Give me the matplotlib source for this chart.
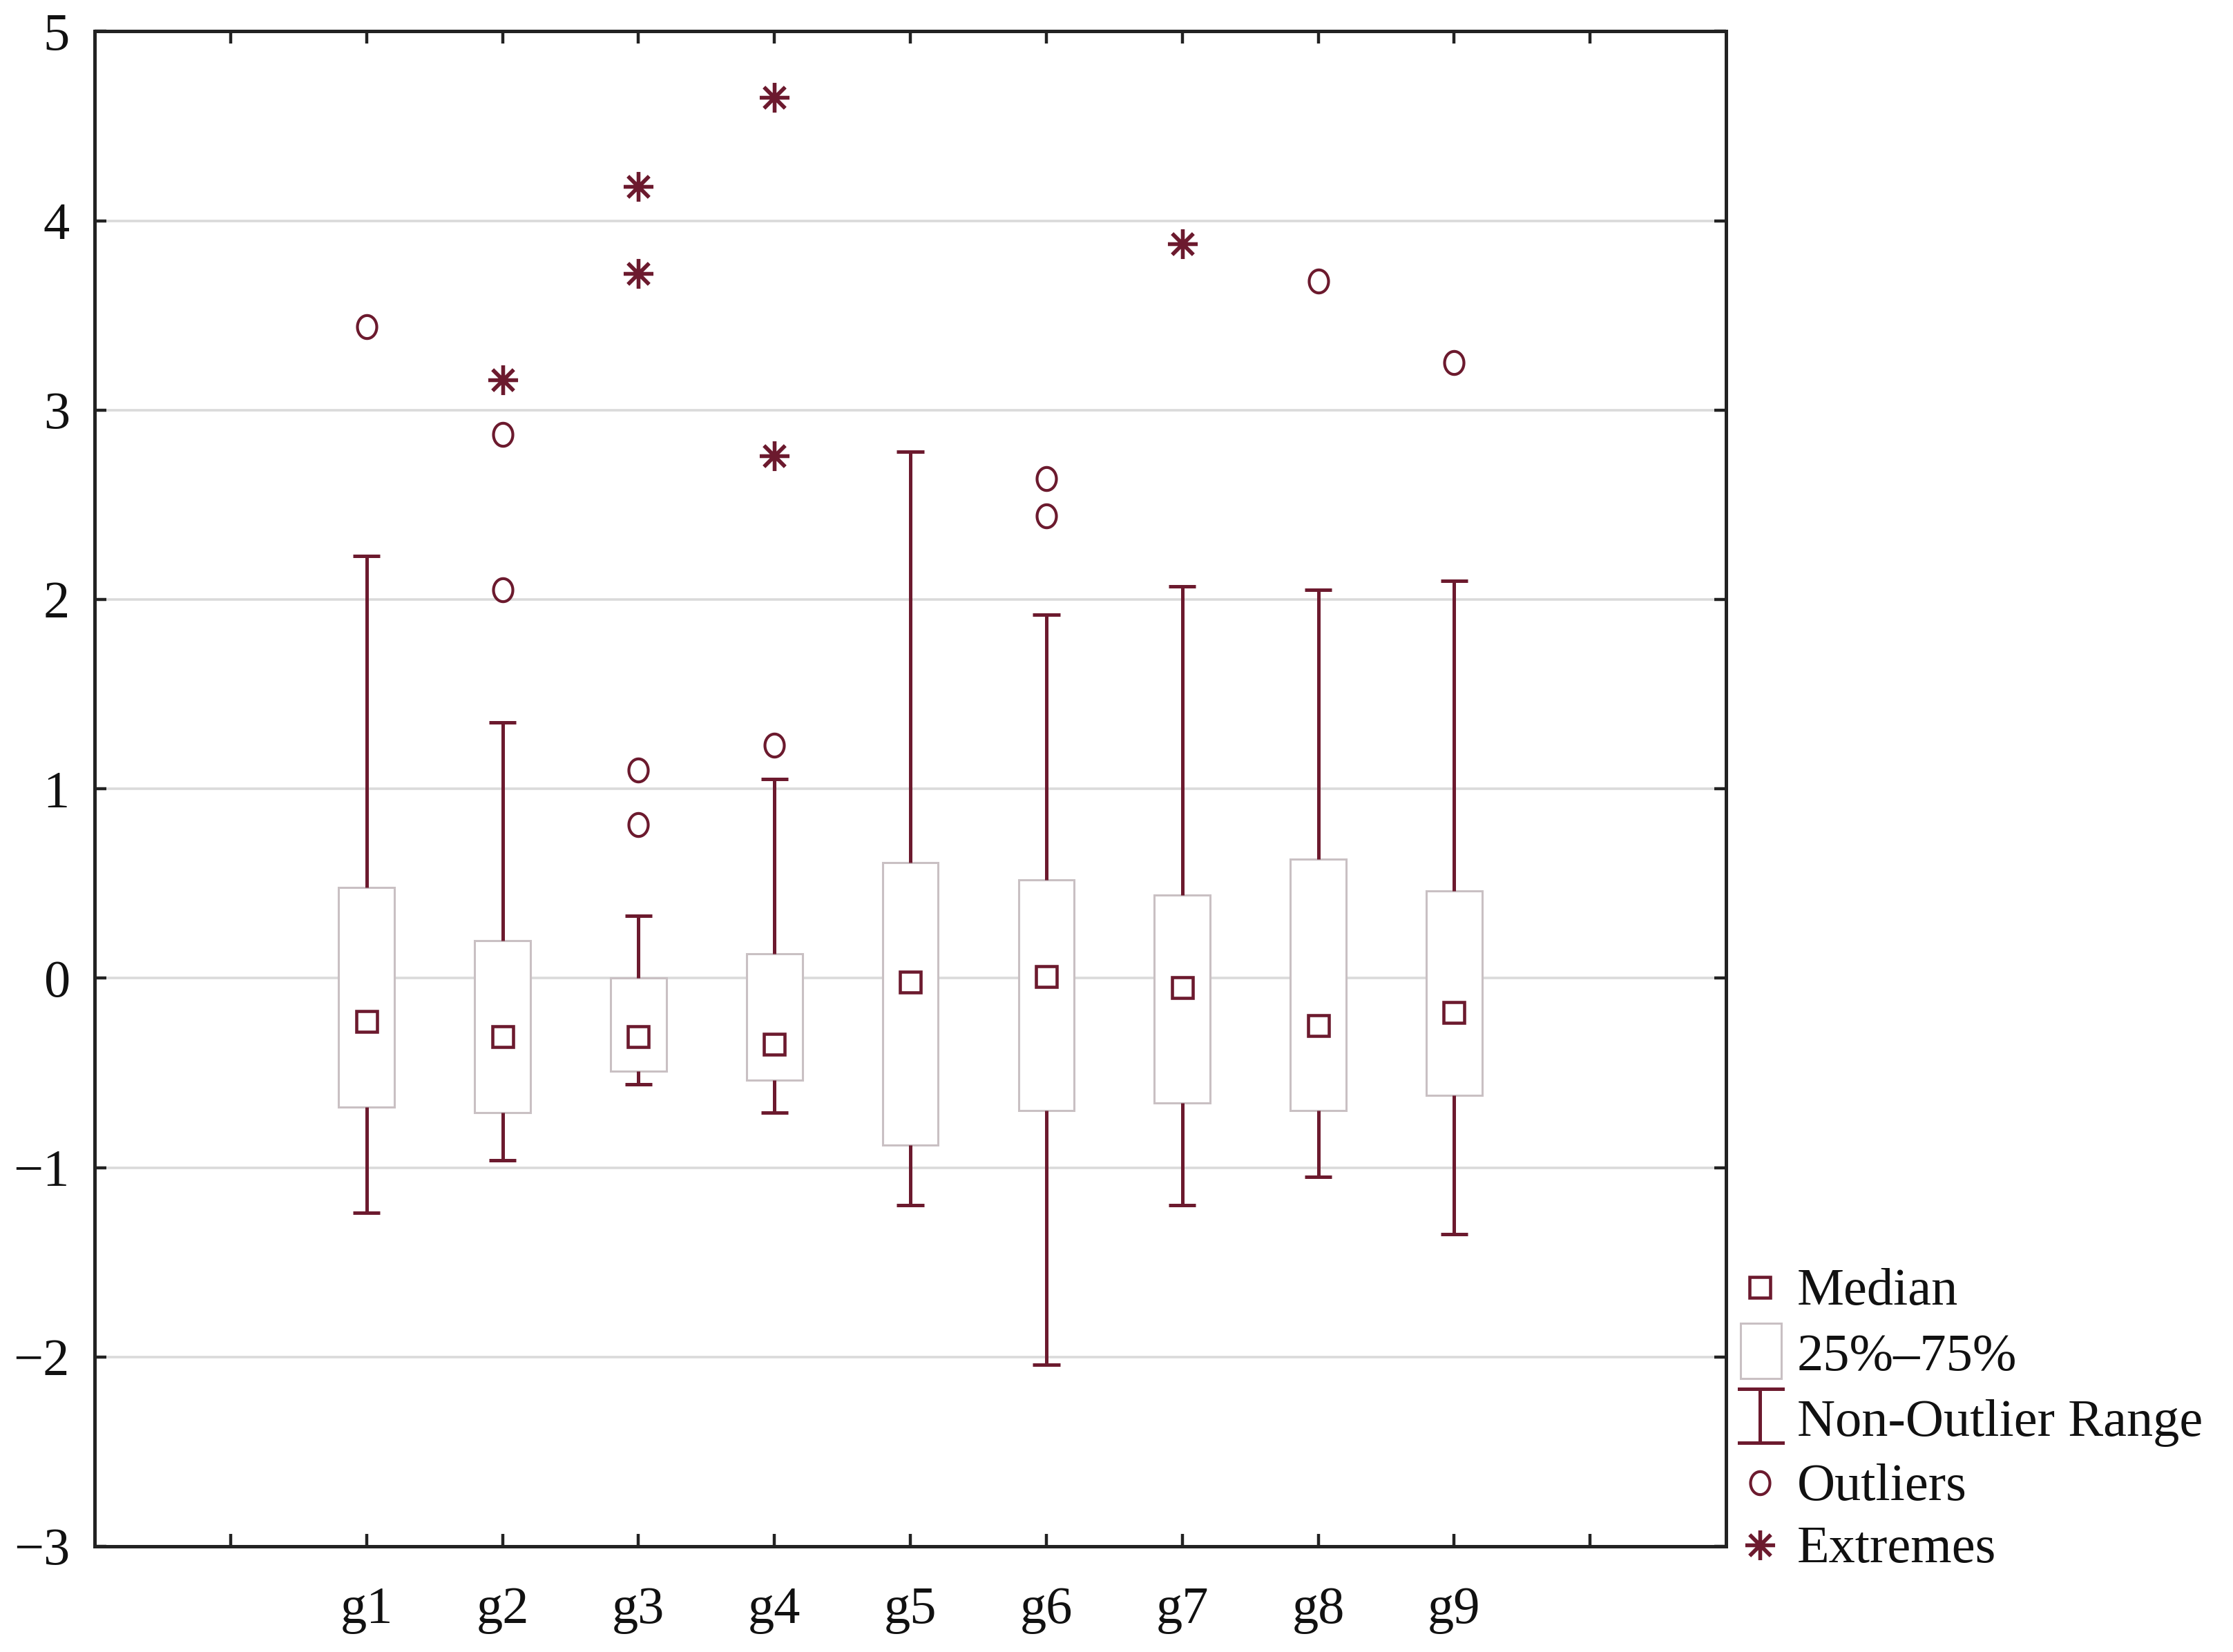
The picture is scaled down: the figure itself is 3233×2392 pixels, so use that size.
import numpy as np
import matplotlib
matplotlib.use("Agg")
import matplotlib.pyplot as plt
from matplotlib.lines import Line2D
from matplotlib.patches import Rectangle
from matplotlib.path import Path

# ---------------- data ----------------
groups = ["g1", "g2", "g3", "g4", "g5", "g6", "g7", "g8", "g9"]
q1 = [-0.68, -0.71, -0.49, -0.54, -0.88, -0.70, -0.66, -0.70, -0.62]
q3 = [0.48, 0.20, 0.00, 0.13, 0.61, 0.52, 0.44, 0.63, 0.46]
medians = [-0.23, -0.31, -0.31, -0.35, -0.02, 0.01, -0.05, -0.25, -0.18]
whisk_lo = [-1.24, -0.96, -0.56, -0.71, -1.20, -2.04, -1.20, -1.05, -1.35]
whisk_hi = [2.23, 1.35, 0.33, 1.05, 2.78, 1.92, 2.07, 2.05, 2.10]
outliers = [[3.44], [2.87, 2.05], [1.10, 0.81], [1.23], [], [2.64, 2.44], [], [3.68], [3.25]]
extremes = [[], [3.16], [4.18, 3.72], [4.65, 2.76], [], [], [3.88], [], []]
y_ticks = [-3, -2, -1, 0, 1, 2, 3, 4, 5]
legend_labels = ["Median", "25%\u201375%", "Non-Outlier Range", "Outliers", "Extremes"]

# ---------------- style ----------------
MAROON = "#6c1a2e"
BOXEDGE = "#c9c0c3"
GRID = "#dadada"
FONT = "Liberation Serif"
FS = 55
WLW = 3.6
MED = dict(marker="s", ms=21, mfc="white", mec=MAROON, mew=3.3)

plt.rcParams["font.family"] = [FONT, "DejaVu Serif"]

fig = plt.figure(figsize=(32.33, 23.92), dpi=100)
ax = fig.add_axes([0.0424, 0.064, 0.7306, 0.917])

pos = np.arange(2, 2 + len(groups))
box_w = 0.41
cap_w = 0.20

# ellipse marker for outliers
t = np.linspace(0, 2 * np.pi, 60)
ell = Path(np.column_stack([0.84 * np.cos(t), np.sin(t)]), closed=True)
OUT = dict(marker=ell, ms=24, mfc="white", mec=MAROON, mew=3.0)
EXT = dict(marker=(8, 2, 0), ms=31, mec=MAROON, mew=3.8)

# grid
for yv in y_ticks:
    ax.axhline(yv, color=GRID, lw=2.6, zorder=0)

# boxes
ax.bar(pos, np.array(q3) - np.array(q1), bottom=q1, width=box_w,
       facecolor="white", edgecolor=BOXEDGE, linewidth=2.2, zorder=2)

# whiskers
ax.vlines(pos, q3, whisk_hi, color=MAROON, lw=WLW, zorder=3)
ax.vlines(pos, whisk_lo, q1, color=MAROON, lw=WLW, zorder=3)
ax.hlines(whisk_hi, pos - cap_w / 2, pos + cap_w / 2, color=MAROON, lw=WLW, zorder=3)
ax.hlines(whisk_lo, pos - cap_w / 2, pos + cap_w / 2, color=MAROON, lw=WLW, zorder=3)

# medians
ax.plot(pos, medians, ls="none", zorder=4, **MED)

# outliers / extremes
for p, ol, ex in zip(pos, outliers, extremes):
    if ol:
        ax.plot([p] * len(ol), ol, ls="none", zorder=4, **OUT)
    if ex:
        ax.plot([p] * len(ex), ex, ls="none", zorder=4, **EXT)

ax.set_xlim(0, 12)
ax.set_ylim(-3, 5)
ax.set_yticks(y_ticks)
ax.set_yticklabels([str(v).replace("-", "\u2212") for v in y_ticks])
ax.set_xticks(np.arange(1, 12))
ax.set_xticklabels([""] + groups + [""])

for s in ax.spines.values():
    s.set_linewidth(3.6)
    s.set_color("#222222")
ax.tick_params(axis="both", direction="in", top=True, right=True, width=3.2,
               color="#222222", labelsize=FS, labelcolor="#111111")
ax.tick_params(axis="y", length=12, pad=26)
ax.tick_params(axis="x", length=13, pad=42)

# ---------------- legend (manual, outside right) ----------------
def fx(px):
    return px / 1568.0

def fy(py):
    return 1 - py / 1160.0

sym_x = fx(1236)
txt_x = fx(1262)
rows = [904, 950, 996, 1041, 1085]
base_off = 25 / 2392.0

fig.add_artist(Line2D([sym_x], [fy(rows[0])], transform=fig.transFigure, ls="none", **MED))
fig.add_artist(Rectangle((fx(1222), fy(968)), fx(1251) - fx(1222), fy(929) - fy(968),
                         transform=fig.transFigure, facecolor="white", edgecolor=BOXEDGE, lw=2.2))
fig.add_artist(Line2D([sym_x, sym_x], [fy(975), fy(1013)], transform=fig.transFigure,
                      color=MAROON, lw=WLW))
fig.add_artist(Line2D([fx(1221), fx(1252)], [fy(975), fy(975)], transform=fig.transFigure,
                      color=MAROON, lw=WLW))
fig.add_artist(Line2D([fx(1221), fx(1252)], [fy(1013), fy(1013)], transform=fig.transFigure,
                      color=MAROON, lw=WLW))
fig.add_artist(Line2D([sym_x], [fy(rows[3])], transform=fig.transFigure, ls="none", **OUT))
fig.add_artist(Line2D([sym_x], [fy(rows[4])], transform=fig.transFigure, ls="none", **EXT))

for r, lab in zip(rows, legend_labels):
    fig.text(txt_x, fy(r) - base_off, lab, fontsize=FS, va="baseline", ha="left", color="#111111")

fig.savefig("out.png", dpi=100, facecolor="white")
